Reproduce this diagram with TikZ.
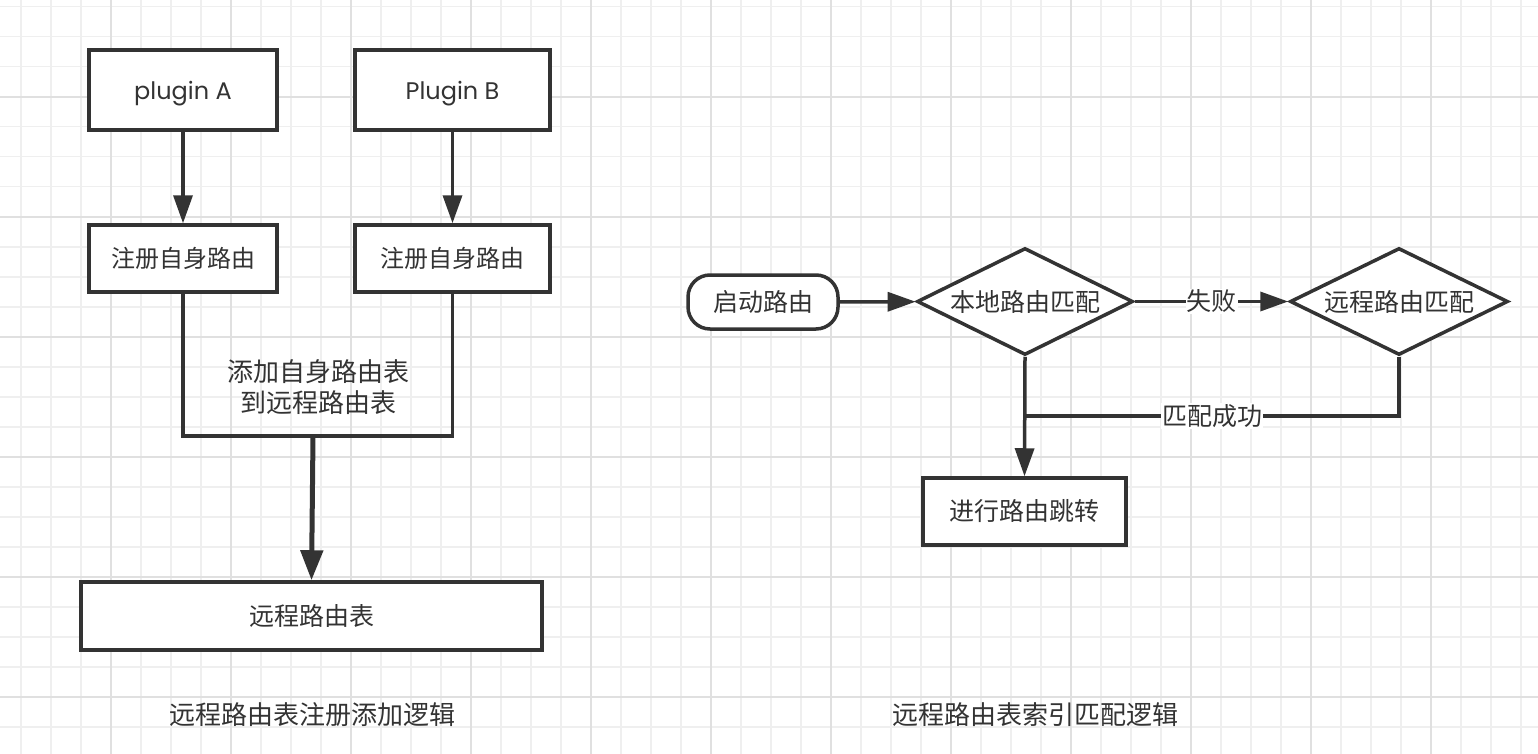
\documentclass[tikz,border=0pt]{standalone}
\usepackage{fontspec}
\newfontfamily\cjk{Noto Sans CJK SC}
\newfontfamily\lat{Poppins}
\usetikzlibrary{shapes.geometric,arrows.meta}
\definecolor{ink}{HTML}{333333}
\definecolor{gridminor}{HTML}{EFEFEF}
\definecolor{gridmajor}{HTML}{E0E0E0}
\begin{document}
\begin{tikzpicture}[x=1pt,y=-1pt,
  minorline/.style={draw=gridminor, line width=1.6pt},
  majorline/.style={draw=gridmajor, line width=2pt},
  zh/.style={font=\cjk\fontsize{25}{31}\selectfont, text=ink},
  zhbig/.style={font=\cjk\fontsize{26}{31}\selectfont, text=ink},
  en/.style={font=\lat\fontsize{24}{30}\selectfont, text=ink, text height=26pt, text depth=6pt},
  box/.style={draw=ink, line width=3.5pt, fill=white, inner sep=0pt},
  startbox/.style={box, rounded corners=22pt},
  decision/.style={diamond, draw=ink, line width=3.5pt, fill=white, inner sep=0pt, aspect=2},
  conn/.style={draw=ink, line width=3.5pt},
  arr/.style={conn, -{Triangle[length=28pt,width=19pt]}},
  bigarr/.style={draw=ink, line width=5pt, -{Triangle[length=30pt,width=22pt]}},
  lbl/.style={zh, fill=white, inner sep=1pt}
]
\useasboundingbox (0,0) rectangle (1538,754);
\fill[white] (0,0) rectangle (1538,754);
% grid
\foreach \i in {0,...,51} \draw[minorline] ({21+30*\i},0) -- ({21+30*\i},754);
\foreach \i in {0,...,25} \draw[minorline] (0,{6.7+30*\i}) -- (1538,{6.7+30*\i});
\foreach \i in {0,...,12} \draw[majorline] ({111+120*\i},0) -- ({111+120*\i},754);
\foreach \i in {0,...,6} \draw[majorline] (0,{96.7+120*\i}) -- (1538,{96.7+120*\i});

% left diagram
\node[box, en, minimum width=188pt, minimum height=80pt] (pA) at (183,90) {plugin A};
\node[box, en, minimum width=195pt, minimum height=80pt] (pB) at (452.5,90) {Plugin B};
\node[box, zh, font=\cjk\fontsize{24}{30}\selectfont, minimum width=188pt, minimum height=67pt] (rA) at (183,258.5) {注册自身路由};
\node[box, zh, font=\cjk\fontsize{24}{30}\selectfont, minimum width=195pt, minimum height=67pt] (rB) at (452.5,258.5) {注册自身路由};
\node[box, zh, minimum width=461pt, minimum height=68pt] (tbl) at (311.5,616) {远程路由表};
\coordinate (j) at (313,436);
\node[zhbig, align=center] (addlbl) at (318,387.5) {添加自身路由表\\到远程路由表};
\node[zhbig] (cap1) at (312,715) {远程路由表注册添加逻辑};

\draw[arr] (pA) -- (rA);
\draw[arr] (pB) -- (rB);
\draw[conn] (rA.south) |- (j);
\draw[conn] (rB.south) |- (j);
\draw[bigarr] (j) -- (tbl.north);

% right diagram
\node[startbox, zh, minimum width=150pt, minimum height=54pt] (start) at (763,302) {启动路由};
\node[decision, zh, minimum width=216pt, minimum height=107pt] (d1) at (1025,301.5) {本地路由匹配};
\node[decision, zh, minimum width=218pt, minimum height=107pt] (d2) at (1399,301.5) {远程路由匹配};
\node[box, zh, minimum width=203pt, minimum height=67pt] (jump) at (1024.5,511.5) {进行路由跳转};
\coordinate (j2) at (1025,416);
\node[zhbig] (cap2) at (1035,715) {远程路由表索引匹配逻辑};

\draw[arr] (start) -- (d1);
\draw[arr] (d1) -- node[lbl] {失败} (d2);
\draw[conn] (d2.south) |- node[lbl, pos=0.75] {匹配成功} (j2);
\draw[arr] (d1.south) -- (jump.north);
\end{tikzpicture}
\end{document}
